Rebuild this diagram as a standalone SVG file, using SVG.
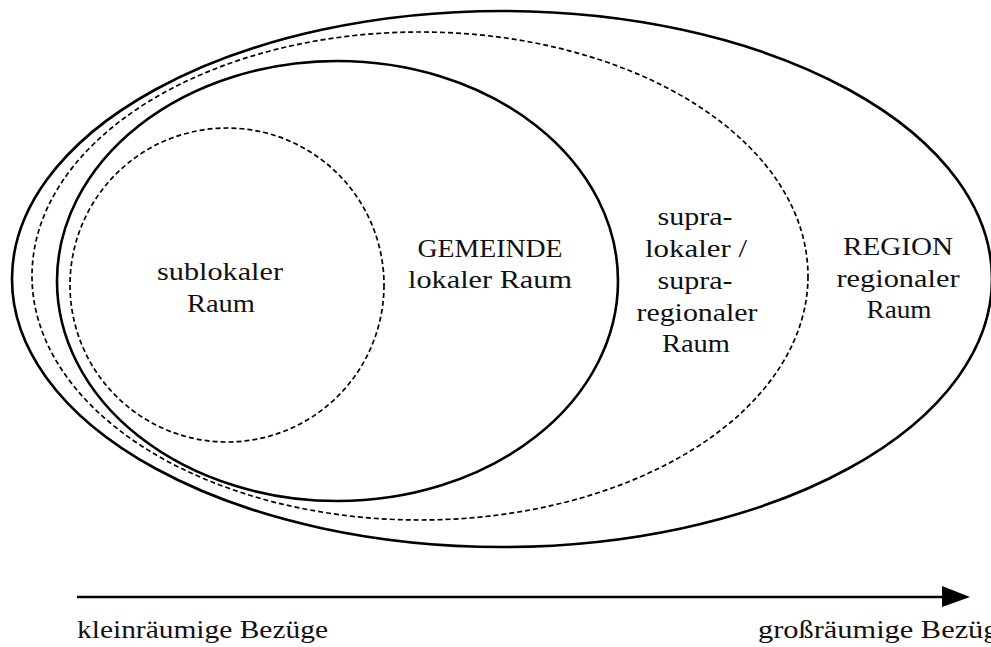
<svg xmlns="http://www.w3.org/2000/svg" width="991" height="647" viewBox="0 0 991 647">
<style>
.solid{fill:none;stroke:#000;stroke-width:2.6}
.dash{fill:none;stroke:#000;stroke-width:1.7;stroke-dasharray:5 3}
text{font-family:"Liberation Serif","Times New Roman",serif;font-size:26px;fill:#111}
.c{text-anchor:middle}
</style>
<rect width="991" height="647" fill="#fff"/>
<g id="region">
<ellipse class="solid" cx="502" cy="279" rx="490" ry="268"/>
<text class="c" x="898" y="255" textLength="110" lengthAdjust="spacingAndGlyphs">REGION</text>
<text class="c" x="898" y="287" textLength="123" lengthAdjust="spacingAndGlyphs">regionaler</text>
<text class="c" x="899" y="318" textLength="65" lengthAdjust="spacingAndGlyphs">Raum</text>
</g>
<g id="supra">
<ellipse class="dash" cx="420" cy="276" rx="388" ry="244"/>
<text class="c" x="695" y="225" textLength="75" lengthAdjust="spacingAndGlyphs">supra-</text>
<text class="c" x="696" y="257" textLength="102" lengthAdjust="spacingAndGlyphs">lokaler /</text>
<text class="c" x="695" y="289" textLength="75" lengthAdjust="spacingAndGlyphs">supra-</text>
<text class="c" x="697" y="321" textLength="121" lengthAdjust="spacingAndGlyphs">regionaler</text>
<text class="c" x="696" y="352" textLength="68" lengthAdjust="spacingAndGlyphs">Raum</text>
</g>
<g id="gemeinde">
<ellipse class="solid" cx="337.5" cy="281" rx="280.5" ry="220"/>
<text class="c" x="490" y="257" textLength="145" lengthAdjust="spacingAndGlyphs">GEMEINDE</text>
<text class="c" x="490" y="288" textLength="164" lengthAdjust="spacingAndGlyphs">lokaler Raum</text>
</g>
<g id="sublokal">
<circle class="dash" cx="227" cy="285" r="157"/>
<text class="c" x="220" y="280" textLength="126" lengthAdjust="spacingAndGlyphs">sublokaler</text>
<text class="c" x="221" y="312" textLength="68" lengthAdjust="spacingAndGlyphs">Raum</text>
</g>
<g id="connectors">
<line x1="77" y1="597" x2="944" y2="597" stroke="#000" stroke-width="2.6"/>
<polygon points="942,586 970,597 942,607" fill="#000"/>
</g>
<g id="axis-labels">
<text x="77" y="638" textLength="251" lengthAdjust="spacingAndGlyphs">kleinräumige Bezüge</text>
<text x="758" y="638" textLength="254" lengthAdjust="spacingAndGlyphs">großräumige Bezüge</text>
</g>
</svg>
